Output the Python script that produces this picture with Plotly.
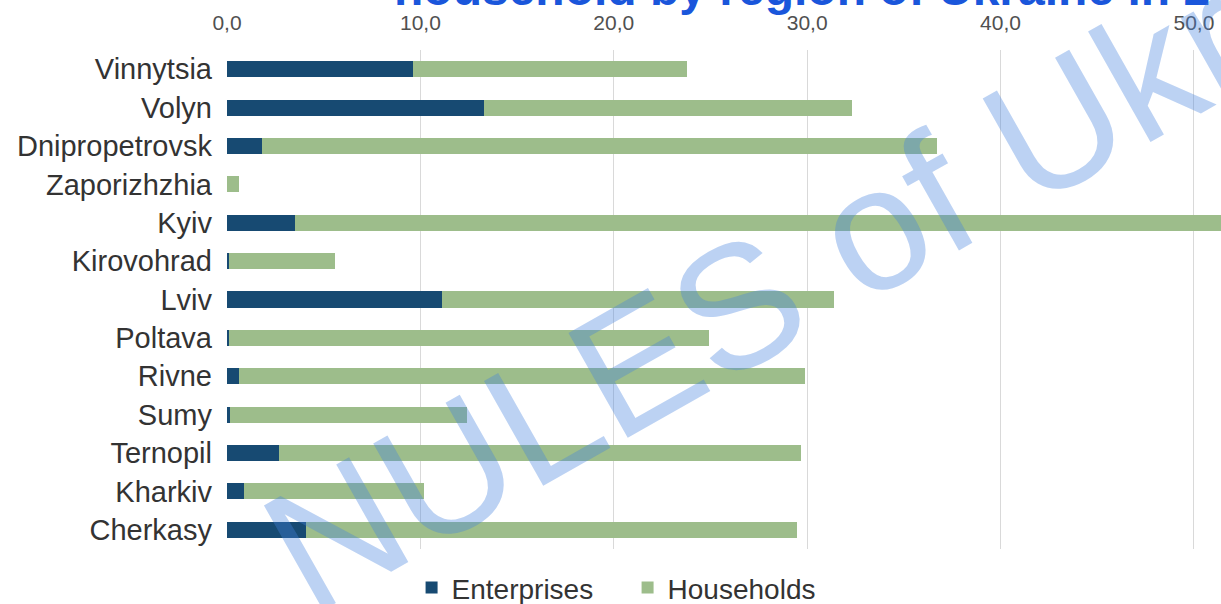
import plotly.graph_objects as go

regions = ["Vinnytsia", "Volyn", "Dnipropetrovsk", "Zaporizhzhia", "Kyiv", "Kirovohrad",
           "Lviv", "Poltava", "Rivne", "Sumy", "Ternopil", "Kharkiv", "Cherkasy"]
enterprises = [9.6, 13.3, 1.8, 0.0, 3.5, 0.1, 11.1, 0.1, 0.6, 0.15, 2.7, 0.9, 4.1]
households = [14.2, 19.0, 34.9, 0.6, 56.5, 5.5, 20.3, 24.8, 29.3, 12.25, 27.0, 9.3, 25.4]
tick_vals = [0, 10, 20, 30, 40, 50]

fig = go.Figure()
fig.add_trace(go.Bar(y=regions, x=enterprises, orientation="h", name="Enterprises",
                     marker=dict(color="#174a72", line=dict(width=0))))
fig.add_trace(go.Bar(y=regions, x=households, orientation="h", name="Households",
                     marker=dict(color="#9dbd8b", line=dict(width=0))))

fig.update_layout(
    barmode="stack",
    bargap=0.58,
    width=1221, height=604,
    margin=dict(l=227, r=0, t=50, b=55, autoexpand=False),
    paper_bgcolor="white", plot_bgcolor="white",
    separators=",.",
    font=dict(family="Liberation Sans, Arial, sans-serif", color="#333333"),
    showlegend=True,
    legend=dict(orientation="h", x=0.403, y=-0.078, xanchor="center", yanchor="middle",
                font=dict(size=28, color="#333333"), itemwidth=30, traceorder="normal",
                entrywidth=171, entrywidthmode="pixels"),
    xaxis=dict(side="top", range=[0, 51.4], tickvals=tick_vals, tickformat=".1f",
               showgrid=True, gridcolor="#d9d9d9", gridwidth=1, zeroline=False,
               showline=False, ticks="", ticklabelstandoff=15, automargin=False,
               tickfont=dict(size=21, color="#505050")),
    yaxis=dict(autorange="reversed", showgrid=False, ticks="", showline=False,
               automargin=False, ticklabelstandoff=14,
               tickfont=dict(size=29, color="#333333")),
)

fig.add_annotation(text="<b>household by region of Ukraine in 2</b>", xref="paper", yref="paper",
                   x=(392 - 227) / 994, y=1, xanchor="left", yanchor="bottom", yshift=33,
                   showarrow=False, font=dict(size=48, color="#1a56db",
                                              family="Liberation Sans, Arial, sans-serif"))

fig.add_annotation(text="NULES of Ukraine", xref="paper", yref="paper",
                   x=0.68, y=0.675, xanchor="center", yanchor="middle", textangle=-29.5,
                   showarrow=False,
                   font=dict(size=175, color="rgba(70,130,221,0.36)",
                             family="Liberation Sans, Arial, sans-serif"))

fig.write_html("out.html", config={"displayModeBar": False},
               post_script="document.body.style.margin='0';document.body.style.overflow='hidden';")
